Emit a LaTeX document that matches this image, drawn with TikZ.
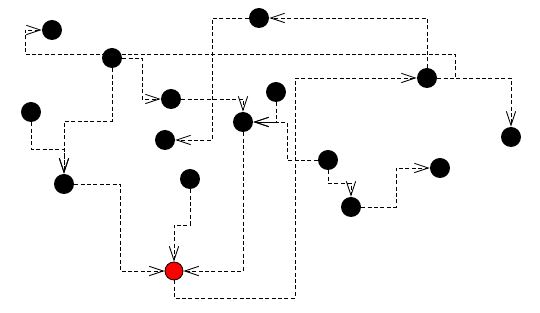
\documentclass[tikz,border=0pt]{standalone}
\usetikzlibrary{arrows.meta}

\begin{document}
\begin{tikzpicture}[x=0.75pt,y=0.75pt,yscale=-1,xscale=1,
    vertex/.style={circle,fill=black,inner sep=0pt,minimum size=15pt},
    sink/.style={circle,fill=red,draw=black,line width=0.6pt,inner sep=0pt,minimum size=13.5pt},
    flow/.style={dash pattern=on 3pt off 1.8pt,line width=0.65pt,-{Straight Barb[length=10.5pt,width=7pt]}}]
    \useasboundingbox (0,0) rectangle (540,313);
    % nodes
    \node [vertex] (A) at (52,30) {};
    \node [vertex] (B) at (112,58) {};
    \node [vertex] (C) at (259,18) {};
    \node [vertex] (D) at (427,78) {};
    \node [vertex] (E) at (31,112) {};
    \node [vertex] (F) at (171,99) {};
    \node [vertex] (G) at (276,92) {};
    \node [vertex] (H) at (243,122) {};
    \node [vertex] (I) at (165,140) {};
    \node [vertex] (J) at (511,137) {};
    \node [vertex] (K) at (64,184) {};
    \node [vertex] (L) at (190,179) {};
    \node [vertex] (M) at (328,160) {};
    \node [vertex] (N) at (351,207) {};
    \node [vertex] (O) at (440,168) {};
    \node [sink] (R) at (174,271) {};
    % connectors
    \draw [flow] (D) -- (455,78) -- (455,54) -- (25,54) -- (25,30) -- (A);
    \draw [flow] (D) |- (C);
    \draw [flow] (D) -| (J);
    \draw [flow] (C) -- (212,18) |- (I);
    \draw [flow] (B) -- (142,58) |- (F);
    \draw [flow] (B) -- (112,121) -| (K);
    \draw [flow] (F) -| (H);
    \draw [flow] (G) |- (H);
    \draw [flow] (M) -- (287,160) |- (H);
    \draw [flow] (H) |- (R);
    \draw [flow] (E) -- (31,149) -| (K);
    \draw [flow] (K) -- (120,184) |- (R);
    \draw [flow] (L) -- (190,225) -| (R);
    \draw [flow] (R) -- (174,298) -- (295,298) |- (D);
    \draw [flow] (M) -- (328,183) -| (N);
    \draw [flow] (N) -- (396,207) |- (O);
\end{tikzpicture}
\end{document}
